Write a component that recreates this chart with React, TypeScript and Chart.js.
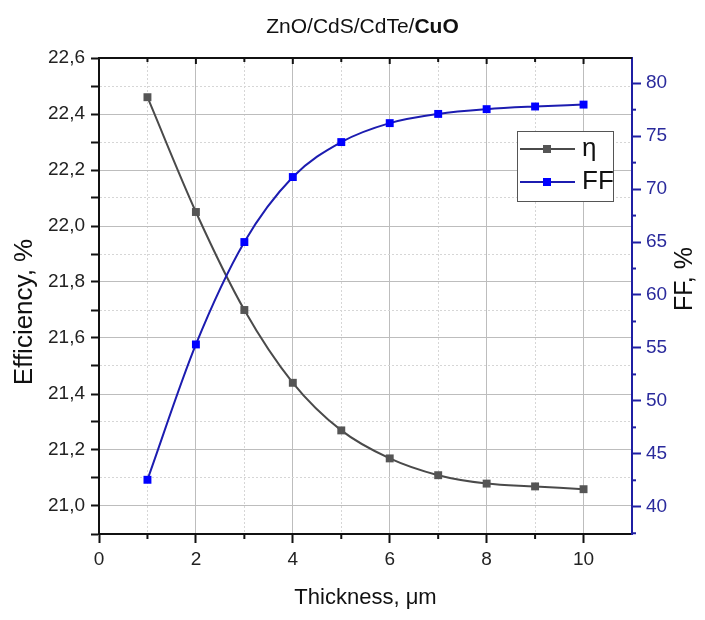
import React, { useEffect, useRef } from 'react';
import { Chart, registerables } from 'chart.js';

Chart.register(...registerables);

// ---- data ----
const thickness = [1, 2, 3, 4, 5, 6, 7, 8, 9, 10];
const efficiency = [22.46, 22.05, 21.7, 21.44, 21.27, 21.17, 21.11, 21.08, 21.07, 21.06];
const fillFactor = [42.55, 55.33, 65.0, 71.14, 74.44, 76.23, 77.1, 77.55, 77.8, 77.98];

// ---- ticks ----
const xTicks = [0, 1, 2, 3, 4, 5, 6, 7, 8, 9, 10, 11];
const xLabeled = [0, 2, 4, 6, 8, 10];
const effTicks = [20.9, 21.0, 21.1, 21.2, 21.3, 21.4, 21.5, 21.6, 21.7, 21.8, 21.9, 22.0, 22.1, 22.2, 22.3, 22.4, 22.5, 22.6];
const effLabeled = [21.0, 21.2, 21.4, 21.6, 21.8, 22.0, 22.2, 22.4, 22.6];
const ffTicks = [37.5, 40, 42.5, 45, 47.5, 50, 52.5, 55, 57.5, 60, 62.5, 65, 67.5, 70, 72.5, 75, 77.5, 80];
const ffLabeled = [40, 45, 50, 55, 60, 65, 70, 75, 80];

const titleParts = [
  { text: 'ZnO/CdS/CdTe/', bold: false },
  { text: 'CuO', bold: true },
];
const xTitle = 'Thickness, μm';
const yTitle = 'Efficiency, %';
const y1Title = 'FF, %';
const seriesNames = ['η', 'FF'];

const FONT = "'Liberation Sans', Arial, Helvetica, sans-serif";
const ETA_LINE = '#4a4a4a';
const ETA_MARK = '#555555';
const FF_LINE = '#1c1cb0';
const FF_MARK = '#0000ff';
const AXIS_BLUE = '#1f1fa3';
const TICK_BLUE = '#2a2a9c';

const has = (arr: number[], v: number) => arr.some((a) => Math.abs(a - v) < 1e-6);

const decorPlugin = {
  id: 'decor',
  afterDraw(chart: any) {
    const { ctx, chartArea } = chart;
    const { left, right, top, bottom } = chartArea;
    const xs = chart.scales.x;
    const y1 = chart.scales.y1;
    ctx.save();

    // top border with inward ticks
    ctx.strokeStyle = '#111';
    ctx.lineWidth = 2;
    ctx.beginPath();
    ctx.moveTo(left - 1, top);
    ctx.lineTo(right, top);
    ctx.stroke();
    xTicks.forEach((v) => {
      if (v <= 0 || v >= 11) return;
      const px = xs.getPixelForValue(v);
      const len = has(xLabeled, v) ? 6 : 4;
      ctx.beginPath();
      ctx.moveTo(px, top);
      ctx.lineTo(px, top + len);
      ctx.stroke();
    });

    // minor ticks (shorter) on bottom axis
    xTicks.forEach((v) => {
      if (has(xLabeled, v) || v >= 11) return;
      const px = xs.getPixelForValue(v);
      ctx.beginPath();
      ctx.moveTo(px, bottom);
      ctx.lineTo(px, bottom + 5);
      ctx.stroke();
    });

    // minor ticks on right axis
    ctx.strokeStyle = AXIS_BLUE;
    ffTicks.forEach((v) => {
      if (has(ffLabeled, v)) return;
      const py = y1.getPixelForValue(v);
      ctx.beginPath();
      ctx.moveTo(right, py);
      ctx.lineTo(right + 4, py);
      ctx.stroke();
    });

    // chart title (mixed weight)
    ctx.fillStyle = '#111';
    ctx.textBaseline = 'alphabetic';
    ctx.textAlign = 'left';
    const fonts = titleParts.map((p) => `${p.bold ? 'bold ' : ''}21px ${FONT}`);
    let total = 0;
    const widths = titleParts.map((p, i) => {
      ctx.font = fonts[i];
      const w = ctx.measureText(p.text).width;
      total += w;
      return w;
    });
    let tx = 362.5 - total / 2;
    titleParts.forEach((p, i) => {
      ctx.font = fonts[i];
      ctx.fillText(p.text, tx, 33);
      tx += widths[i];
    });

    // left axis title
    ctx.save();
    ctx.translate(25, 312);
    ctx.rotate(-Math.PI / 2);
    ctx.font = `26px ${FONT}`;
    ctx.textAlign = 'center';
    ctx.textBaseline = 'middle';
    ctx.fillStyle = '#111';
    ctx.fillText(yTitle, 0, 0);
    ctx.restore();

    // right axis title
    ctx.save();
    ctx.translate(685, 279);
    ctx.rotate(-Math.PI / 2);
    ctx.font = `25px ${FONT}`;
    ctx.textAlign = 'center';
    ctx.textBaseline = 'middle';
    ctx.fillStyle = '#111';
    ctx.fillText(y1Title, 0, 0);
    ctx.restore();

    // legend
    const bx = 517.5, by = 131.5, bw = 96, bh = 70;
    ctx.fillStyle = '#ffffff';
    ctx.fillRect(bx, by, bw, bh);
    ctx.strokeStyle = '#555';
    ctx.lineWidth = 1;
    ctx.strokeRect(bx, by, bw, bh);
    const rows = [149, 182];
    chart.data.datasets.forEach((ds: any, i: number) => {
      const ry = rows[ds.legendRow];
      ctx.strokeStyle = ds.borderColor;
      ctx.lineWidth = 2;
      ctx.beginPath();
      ctx.moveTo(520, ry);
      ctx.lineTo(575, ry);
      ctx.stroke();
      ctx.fillStyle = ds.pointBackgroundColor;
      ctx.fillRect(543, ry - 4, 8, 8);
      ctx.fillStyle = '#111';
      ctx.font = `26px ${FONT}`;
      ctx.textAlign = 'left';
      ctx.textBaseline = 'middle';
      ctx.fillText(ds.label, 582, ry);
    });

    ctx.restore();
  },
};

export default function App() {
  const ref = useRef<HTMLCanvasElement | null>(null);

  useEffect(() => {
    document.body.style.margin = '0';
    const canvas = ref.current;
    if (!canvas) return;
    Chart.defaults.font.family = FONT;

    const chart = new Chart(canvas, {
      type: 'line',
      data: {
        datasets: [
          {
            label: seriesNames[1],
            legendRow: 1,
            data: thickness.map((t, i) => ({ x: t, y: fillFactor[i] })),
            yAxisID: 'y1',
            borderColor: FF_LINE,
            backgroundColor: FF_MARK,
            pointBackgroundColor: FF_MARK,
            pointBorderColor: FF_MARK,
            borderWidth: 2,
            pointStyle: 'rect',
            pointRadius: 5.6,
            pointBorderWidth: 0,
            cubicInterpolationMode: 'monotone',
            order: 0,
          } as any,
          {
            label: seriesNames[0],
            legendRow: 0,
            data: thickness.map((t, i) => ({ x: t, y: efficiency[i] })),
            yAxisID: 'y',
            borderColor: ETA_LINE,
            backgroundColor: ETA_MARK,
            pointBackgroundColor: ETA_MARK,
            pointBorderColor: ETA_MARK,
            borderWidth: 2,
            pointStyle: 'rect',
            pointRadius: 5.6,
            pointBorderWidth: 0,
            cubicInterpolationMode: 'monotone',
            order: 1,
          } as any,
        ],
      },
      options: {
        animation: false,
        responsive: false,
        devicePixelRatio: 1,
        layout: { padding: { top: 58, left: 0, right: 0, bottom: 0 } },
        plugins: {
          legend: { display: false },
          title: { display: false },
          tooltip: { enabled: false },
        },
        scales: {
          x: {
            type: 'linear',
            position: 'bottom',
            min: 0,
            max: 11,
            afterBuildTicks: (axis: any) => {
              axis.ticks = xTicks.map((v) => ({ value: v }));
            },
            afterFit: (axis: any) => {
              axis.height = 86;
            },
            ticks: {
              autoSkip: false,
              maxRotation: 0,
              padding: 5,
              color: '#222',
              font: { size: 19 },
              callback: (v: any) => (has(xLabeled, Number(v)) ? String(v) : ''),
            },
            grid: {
              color: (c: any) => (c.tick && has(xLabeled, c.tick.value) ? '#bdbdbd' : '#d6d6d6'),
              lineWidth: 1,
              tickLength: 9,
              tickWidth: 2,
              tickColor: (c: any) => (c.tick && has(xLabeled, c.tick.value) ? '#111' : 'rgba(0,0,0,0)'),
            },
            border: {
              color: '#111',
              width: 2,
              dash: (c: any) => (c.tick && !has(xLabeled, c.tick.value) ? [2, 2] : []),
            },
            title: {
              display: true,
              text: xTitle,
              color: '#111',
              font: { size: 22 },
              padding: { top: 0, bottom: 9 },
            },
          },
          y: {
            type: 'linear',
            position: 'left',
            min: 20.9,
            max: 22.6,
            afterBuildTicks: (axis: any) => {
              axis.ticks = effTicks.map((v) => ({ value: v }));
            },
            afterFit: (axis: any) => {
              axis.width = 99;
            },
            ticks: {
              autoSkip: false,
              padding: 6,
              color: '#222',
              font: { size: 19 },
              callback: (v: any) =>
                has(effLabeled, Number(v)) ? Number(v).toFixed(1).replace('.', ',') : '',
            },
            grid: {
              color: (c: any) => (c.tick && has(effLabeled, c.tick.value) ? '#bdbdbd' : '#d6d6d6'),
              lineWidth: 1,
              tickLength: 8,
              tickWidth: 2,
              tickColor: '#111',
            },
            border: {
              color: '#111',
              width: 2,
              dash: (c: any) => (c.tick && !has(effLabeled, c.tick.value) ? [2, 2] : []),
            },
          },
          y1: {
            type: 'linear',
            position: 'right',
            min: 37.43,
            max: 82.38,
            afterBuildTicks: (axis: any) => {
              axis.ticks = ffTicks.map((v) => ({ value: v }));
            },
            afterFit: (axis: any) => {
              axis.width = 73;
            },
            ticks: {
              autoSkip: false,
              padding: 5,
              color: TICK_BLUE,
              font: { size: 19 },
              callback: (v: any) => (has(ffLabeled, Number(v)) ? String(v) : ''),
            },
            grid: {
              drawOnChartArea: false,
              tickLength: 9,
              tickWidth: 2,
              tickColor: (c: any) => (c.tick && has(ffLabeled, c.tick.value) ? AXIS_BLUE : 'rgba(0,0,0,0)'),
            },
            border: { color: AXIS_BLUE, width: 2 },
          },
        },
      } as any,
      plugins: [decorPlugin],
    });

    return () => chart.destroy();
  }, []);

  return (
    <div style={{ width: 705, height: 620, background: '#fff' }}>
      <canvas ref={ref} width={705} height={620} style={{ display: 'block' }} />
    </div>
  );
}
